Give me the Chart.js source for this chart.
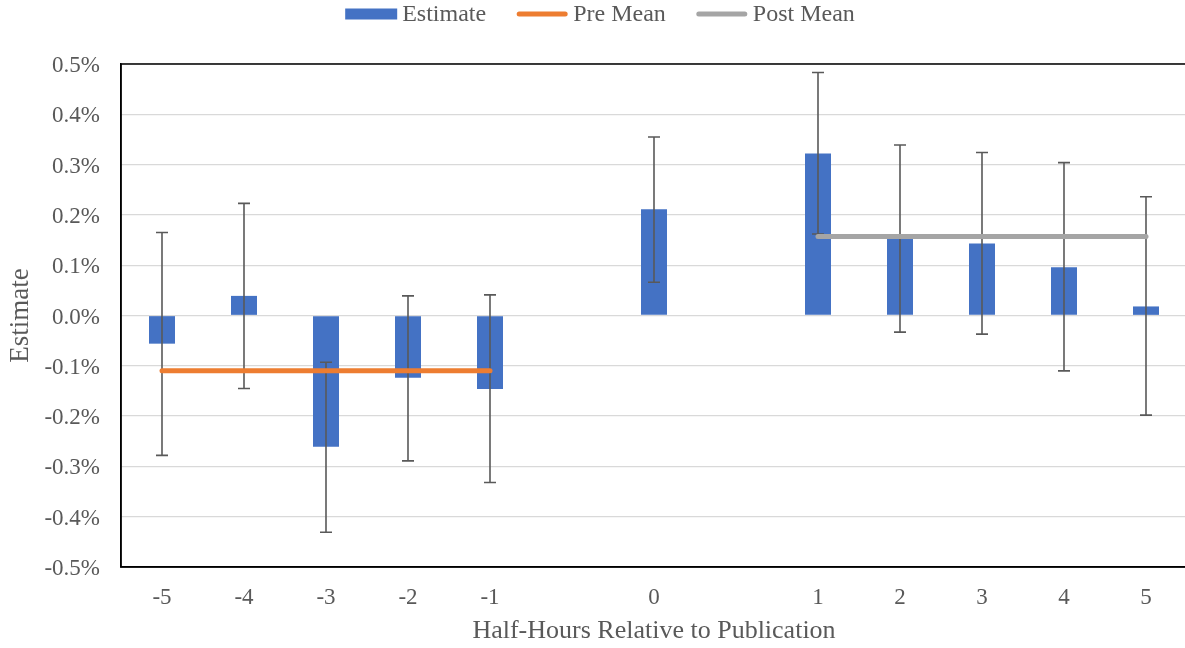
<!DOCTYPE html>
<html>
<head>
    <meta charset="utf-8">
    <script src="https://cdn.jsdelivr.net/npm/chart.js@4.4.1/dist/chart.umd.min.js"></script>
    <style>
        html, body {
            margin: 0;
            padding: 0;
            background: #ffffff;
            overflow: hidden;
        }

        .chart-wrap {
            position: relative;
            width: 1189px;
            height: 648px;
        }
    </style>
</head>
<body>
    <div class="chart-wrap">
        <canvas id="estChart"></canvas>
    </div>

    <script>
        // Half-hour offsets; blank slots keep the gaps around 0
        const categories = ['-5', '-4', '-3', '-2', '-1', '', '0', '', '1', '2', '3', '4', '5'];
        // Estimates in percent
        const estimates = [-0.056, 0.039, -0.261, -0.124, -0.146, null, 0.211, null, 0.322, 0.154, 0.143, 0.096, 0.018];
        const ciLower = [-0.278, -0.145, -0.431, -0.289, -0.332, null, 0.066, null, 0.162, -0.033, -0.037, -0.110, -0.198];
        const ciUpper = [0.165, 0.223, -0.093, 0.039, 0.041, null, 0.355, null, 0.483, 0.339, 0.324, 0.304, 0.236];
        const preMean = [-0.110, -0.110, -0.110, -0.110, -0.110, null, null, null, null, null, null, null, null];
        const postMean = [null, null, null, null, null, null, null, null, 0.157, 0.157, 0.157, 0.157, 0.157];
        const yTicks = [-0.5, -0.4, -0.3, -0.2, -0.1, 0, 0.1, 0.2, 0.3, 0.4, 0.5];

        const serif = "'Liberation Serif', 'Times New Roman', serif";
        const textGrey = '#595959';

        // whiskers drawn right after the bars, under the mean lines
        const errorBars = {
            id: 'errorBars',
            afterDatasetDraw(chart, args) {
                if (args.index !== 0) return;
                const ctx = chart.ctx;
                const x = chart.scales.x;
                const y = chart.scales.y;
                ctx.save();
                ctx.strokeStyle = '#595959';
                ctx.lineWidth = 1.6;
                ciLower.forEach((lo, i) => {
                    if (lo === null) return;
                    const px = x.getPixelForValue(i);
                    const yl = y.getPixelForValue(lo);
                    const yu = y.getPixelForValue(ciUpper[i]);
                    ctx.beginPath();
                    ctx.moveTo(px, yl);
                    ctx.lineTo(px, yu);
                    ctx.moveTo(px - 6, yl);
                    ctx.lineTo(px + 6, yl);
                    ctx.moveTo(px - 6, yu);
                    ctx.lineTo(px + 6, yu);
                    ctx.stroke();
                });
                ctx.restore();
            }
        };

        // plot frame + legend row at the top
        const frameAndLegend = {
            id: 'frameAndLegend',
            afterDraw(chart) {
                const ctx = chart.ctx;
                const a = chart.chartArea;
                ctx.save();
                ctx.strokeStyle = '#000000';
                ctx.lineWidth = 1.5;
                ctx.strokeRect(a.left, a.top, a.right - a.left, a.bottom - a.top);

                ctx.font = '24px ' + serif;
                ctx.textBaseline = 'middle';
                ctx.fillStyle = textGrey;
                const items = chart.data.datasets.map(ds => ({
                    text: ds.label,
                    color: ds.type === 'line' ? ds.borderColor : ds.backgroundColor,
                    line: ds.type === 'line',
                    w: ctx.measureText(ds.label).width
                }));
                const keyW = 52, keyGap = 5, itemGap = 30;
                let total = 0;
                items.forEach((it, i) => { total += keyW + keyGap + it.w + (i ? itemGap : 0); });
                let cx = 600 - total / 2;
                const cy = 14;
                items.forEach(it => {
                    if (it.line) {
                        ctx.strokeStyle = it.color;
                        ctx.lineWidth = 5;
                        ctx.lineCap = 'round';
                        ctx.beginPath();
                        ctx.moveTo(cx + 3, cy);
                        ctx.lineTo(cx + keyW - 3, cy);
                        ctx.stroke();
                    } else {
                        ctx.fillStyle = it.color;
                        ctx.fillRect(cx, cy - 5.5, keyW, 11);
                    }
                    ctx.fillStyle = textGrey;
                    ctx.fillText(it.text, cx + keyW + keyGap, cy + 1);
                    cx += keyW + keyGap + it.w + itemGap;
                });
                ctx.restore();
            }
        };

        const chart = new Chart(document.getElementById('estChart'), {
            data: {
                labels: categories,
                datasets: [{
                    type: 'bar',
                    label: 'Estimate',
                    data: estimates,
                    backgroundColor: '#4472C4',
                    borderWidth: 0,
                    barPercentage: 0.317,
                    categoryPercentage: 1,
                    order: 3
                }, {
                    type: 'line',
                    label: 'Pre Mean',
                    data: preMean,
                    borderColor: '#ED7D31',
                    backgroundColor: '#ED7D31',
                    borderWidth: 5,
                    borderCapStyle: 'round',
                    pointRadius: 0,
                    spanGaps: false,
                    order: 2
                }, {
                    type: 'line',
                    label: 'Post Mean',
                    data: postMean,
                    borderColor: '#A5A5A5',
                    backgroundColor: '#A5A5A5',
                    borderWidth: 5,
                    borderCapStyle: 'round',
                    pointRadius: 0,
                    spanGaps: false,
                    order: 1
                }]
            },
            options: {
                responsive: true,
                maintainAspectRatio: false,
                animation: false,
                layout: {
                    padding: { top: 64, left: 0, right: 2, bottom: 0 }
                },
                plugins: {
                    legend: { display: false },
                    tooltip: { enabled: false }
                },
                scales: {
                    x: {
                        grid: { display: false },
                        border: { display: true, color: '#000000', width: 1.5 },
                        ticks: {
                            color: textGrey,
                            font: { family: serif, size: 23 },
                            padding: 9,
                            autoSkip: false,
                            maxRotation: 0
                        },
                        title: {
                            display: true,
                            text: 'Half-Hours Relative to Publication',
                            color: textGrey,
                            font: { family: serif, size: 26 },
                            padding: { top: 0, bottom: 1 }
                        },
                        afterFit(scale) { scale.height = 81; }
                    },
                    y: {
                        min: yTicks[0],
                        max: yTicks[yTicks.length - 1],
                        afterBuildTicks(scale) {
                            scale.ticks = yTicks.map(v => ({ value: v }));
                        },
                        grid: { color: '#D9D9D9', lineWidth: 1.3, drawTicks: false },
                        border: { display: true, color: '#000000', width: 1.5 },
                        ticks: {
                            color: textGrey,
                            font: { family: serif, size: 23 },
                            padding: 21,
                            labelOffset: 2,
                            callback: v => v.toFixed(1) + '%'
                        },
                        title: {
                            display: true,
                            text: 'Estimate',
                            color: textGrey,
                            font: { family: serif, size: 27 },
                            padding: { top: 5, bottom: 0 }
                        },
                        afterFit(scale) { scale.width = 121; }
                    }
                }
            },
            plugins: [errorBars, frameAndLegend]
        });
    </script>
</body>
</html>
